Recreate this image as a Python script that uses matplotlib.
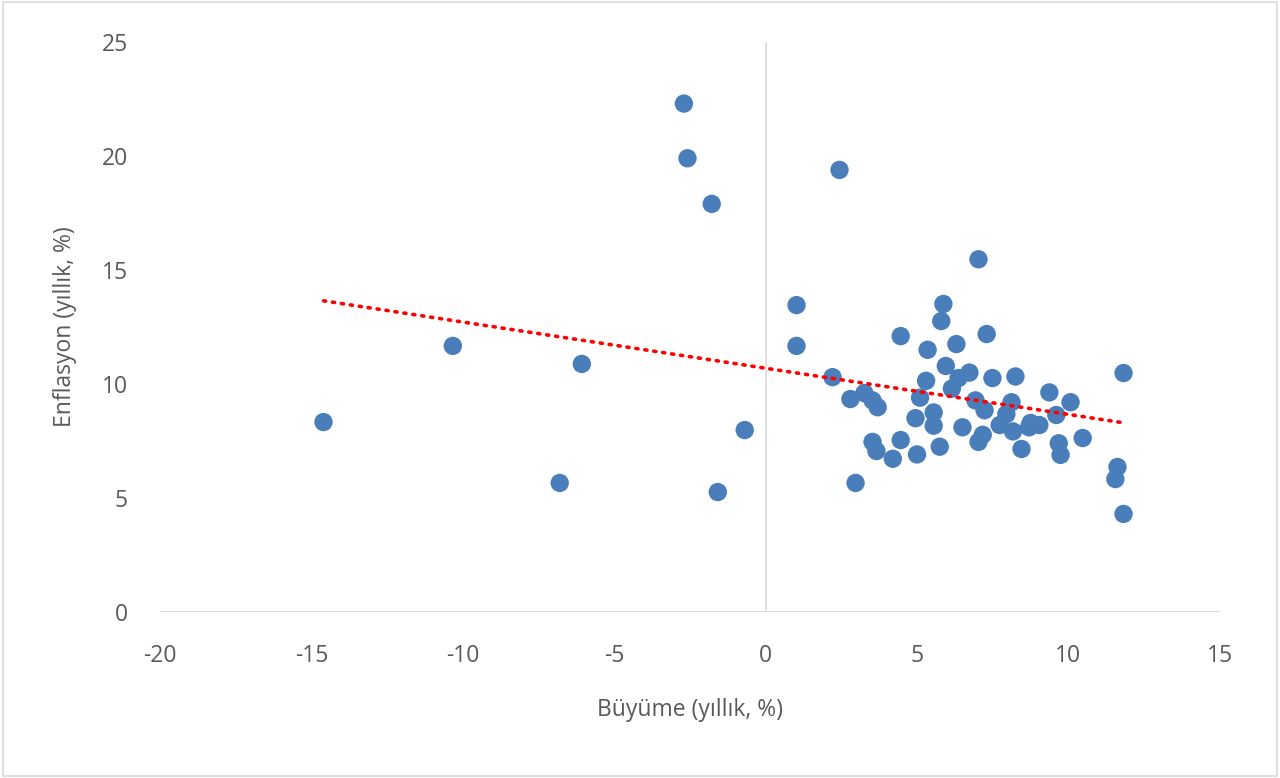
import numpy as np
import matplotlib.pyplot as plt
from matplotlib.patches import Rectangle

# Büyüme (x) and Enflasyon (y)
growth = [-14.6, -10.33, -6.07, -6.8, -2.7, -2.58, -1.78, -1.58, -0.69,
          1.02, 1.02, 2.44, 2.21, 2.8, 2.97, 3.26, 3.53, 3.7, 3.53, 3.66,
          4.2, 4.46, 4.46, 4.95, 5.0, 5.1, 5.3, 5.35, 5.55, 5.55, 5.75,
          5.8, 5.87, 5.95, 6.15, 6.3, 6.37, 6.5, 6.73, 7.03, 6.93, 7.03,
          7.17, 7.23, 7.3, 7.49, 7.73, 7.95, 8.12, 8.25, 8.17, 8.45, 8.7,
          8.75, 9.04, 9.37, 9.6, 9.68, 9.74, 10.07, 10.47, 11.62, 11.55,
          11.82, 11.82]
inflation = [8.33, 11.67, 10.88, 5.66, 22.3, 19.9, 17.9, 5.26, 7.98,
             13.46, 11.67, 19.39, 10.3, 9.34, 5.66, 9.6, 9.28, 8.98, 7.46, 7.06,
             6.72, 12.1, 7.54, 8.5, 6.91, 9.4, 10.14, 11.5, 8.75, 8.17, 7.25,
             12.76, 13.51, 10.79, 9.8, 11.75, 10.26, 8.1, 10.5, 15.47, 9.28, 7.46,
             7.77, 8.85, 12.19, 10.26, 8.2, 8.68, 9.2, 10.33, 7.92, 7.15, 8.1,
             8.29, 8.2, 9.63, 8.64, 7.4, 6.89, 9.2, 7.63, 6.36, 5.83,
             10.48, 4.3]

x_ticks = [-20, -15, -10, -5, 0, 5, 10, 15]
y_ticks = [0, 5, 10, 15, 20, 25]

plt.rcParams['font.family'] = ['Open Sans', 'DejaVu Sans']
plt.rcParams['axes.unicode_minus'] = False

fig = plt.figure(figsize=(12.8, 7.78), dpi=100)
ax = fig.add_axes([0.125, 0.2134, 0.828, 0.7326])

ax.scatter(growth, inflation, s=175, color='#4a7ebb', edgecolors='none', zorder=3)

# linear trendline
coef = np.polyfit(growth, inflation, 1)
tx = np.array([min(growth), max(growth)])
ax.plot(tx, np.polyval(coef, tx), color='#ff0000', lw=2.6,
        linestyle=(0, (0.6, 1.9)), dash_capstyle='round', zorder=4)

ax.set_xlim(-20, 15)
ax.set_ylim(0, 25)
ax.set_xticks(x_ticks)
ax.set_yticks(y_ticks)

for s in ax.spines.values():
    s.set_visible(False)
ax.axhline(0, color='#d9d9d9', lw=1.2, zorder=1)
ax.axvline(0, color='#d9d9d9', lw=1.2, zorder=1)

ax.tick_params(length=0, labelsize=16.5, colors='#595959')
ax.tick_params(axis='x', pad=23)
ax.tick_params(axis='y', pad=23)
ax.set_xlabel('Büyüme (yıllık, %)', fontsize=16.5, color='#595959', labelpad=22)
ax.set_ylabel('Enflasyon (yıllık, %)', fontsize=16.5, color='#595959', labelpad=18)

fig.patches.append(Rectangle((0.002, 0.002), 0.996, 0.996, transform=fig.transFigure,
                             fill=False, edgecolor='#d9d9d9', lw=1.2))

fig.savefig('out.png', dpi=100)
